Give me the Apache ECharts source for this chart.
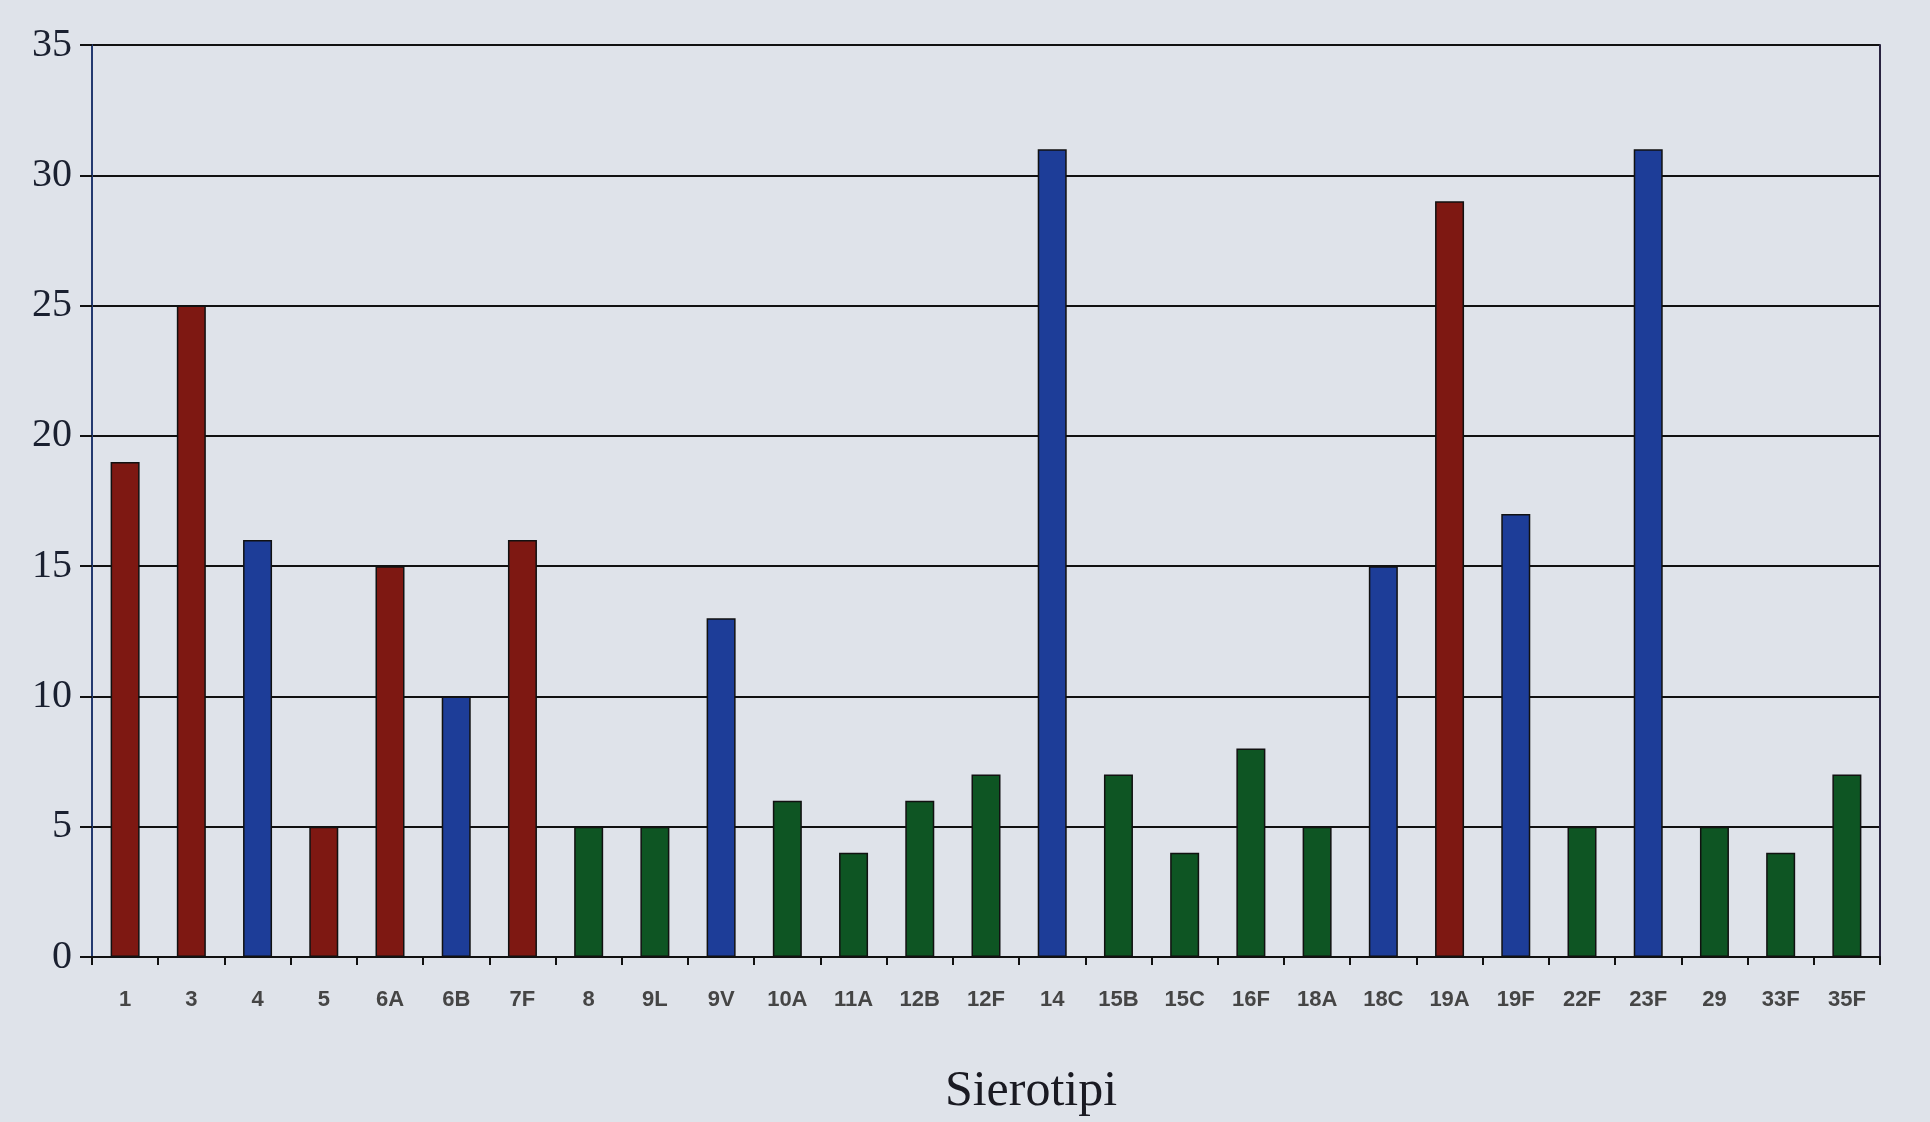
<!DOCTYPE html>
<html>
<head>
<meta charset="utf-8">
<script src="https://cdn.jsdelivr.net/npm/echarts@6/dist/echarts.min.js"></script>
<style>
html,body{margin:0;padding:0;background:#dfe3ea;}
#c{width:1930px;height:1122px;}
</style>
</head>
<body>
<div id="c"></div>
<script>
const categories = ['1','3','4','5','6A','6B','7F','8','9L','9V','10A','11A','12B','12F','14','15B','15C','16F','18A','18C','19A','19F','22F','23F','29','33F','35F'];
const values = [19,25,16,5,15,10,16,5,5,13,6,4,6,7,31,7,4,8,5,15,29,17,5,31,5,4,7];
const groups = ['r','r','b','r','r','b','r','g','g','b','g','g','g','g','b','g','g','g','g','b','r','b','g','b','g','g','g'];
const yTicks = [0,5,10,15,20,25,30,35];
const xTitle = 'Sierotipi';

const colorOf = {r:'#7e1812', b:'#1d3d98', g:'#0e5523'};

const chart = echarts.init(document.getElementById('c'));
chart.setOption({
  backgroundColor: '#dfe3ea',
  animation: false,
  grid: {left: 92, right: 50, top: 45, bottom: 140},
  xAxis: {
    type: 'category',
    data: categories,
    name: xTitle,
    nameLocation: 'middle',
    nameGap: 110,
    nameTextStyle: {fontFamily: 'Liberation Serif', fontSize: 50, color: '#1a1a22', padding: [0, 0, 0, 90]},
    axisLine: {lineStyle: {color: '#111', width: 2}},
    axisTick: {show: true, alignWithLabel: false, length: 8, lineStyle: {color: '#111', width: 2}},
    axisLabel: {fontFamily: 'Liberation Sans', fontSize: 22, fontWeight: 'bold', color: '#454545', margin: 32}
  },
  yAxis: [{
    type: 'value',
    min: yTicks[0],
    max: yTicks[yTicks.length - 1],
    interval: 5,
    axisLine: {show: true, lineStyle: {color: '#243a70', width: 2}},
    axisTick: {show: true, length: 12, lineStyle: {color: '#111', width: 2}},
    splitLine: {lineStyle: {color: '#111', width: 2}},
    axisLabel: {fontFamily: 'Liberation Serif', fontSize: 40, color: '#1a2030', margin: 20}
  }, {
    type: 'value',
    position: 'right',
    min: yTicks[0],
    max: yTicks[yTicks.length - 1],
    interval: 5,
    axisLine: {show: true, lineStyle: {color: '#2a2440', width: 2}},
    axisTick: {show: false},
    axisLabel: {show: false},
    splitLine: {show: false}
  }],
  series: [{
    type: 'bar',
    data: values.map((v, i) => ({value: v, itemStyle: {color: colorOf[groups[i]]}})),
    barWidth: 29,
    itemStyle: {borderColor: '#111', borderWidth: 1.5}
  }]
});
</script>
</body>
</html>
